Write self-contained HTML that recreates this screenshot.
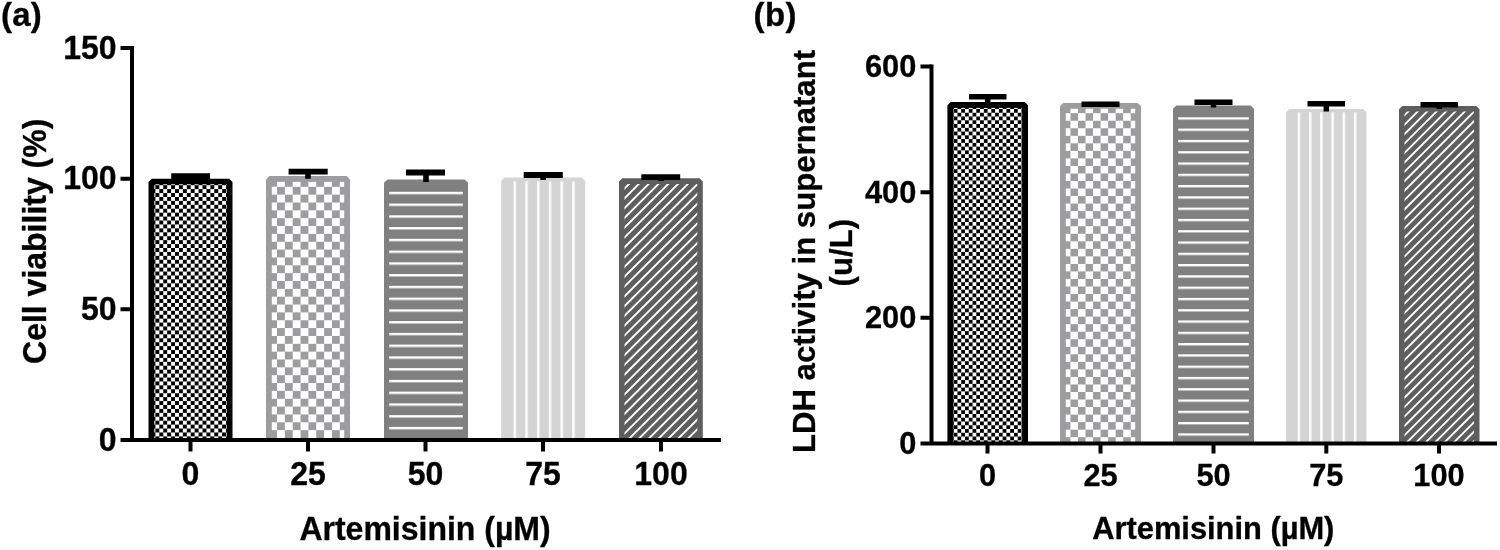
<!DOCTYPE html>
<html lang="en"><head><meta charset="utf-8"><title>Artemisinin cell viability and LDH activity</title>
<style>
html,body{margin:0;padding:0;background:#fff;}
body{width:1500px;height:550px;overflow:hidden;}
svg{display:block;}
text{font-family:"Liberation Sans",Arial,Helvetica,sans-serif;font-weight:bold;fill:#000;stroke:#000;stroke-width:0.3px;}
</style></head><body>
<svg width="1500" height="550" viewBox="0 0 1500 550" role="img" aria-label="Bar charts of cell viability and LDH activity versus Artemisinin concentration">
<rect x="0" y="0" width="1500" height="550" fill="#fff"/>
<defs>
<pattern id="p1a" patternUnits="userSpaceOnUse" x="155.4" y="185.2" width="7.85" height="7.85"><rect x="3.925" y="0" width="3.925" height="3.925" fill="#fff"/><rect x="0" y="3.925" width="3.925" height="3.925" fill="#fff"/></pattern>
<pattern id="p1b" patternUnits="userSpaceOnUse" x="277" y="186.8" width="15.7" height="15.7"><rect x="7.85" y="0" width="7.85" height="7.85" fill="#fff"/><rect x="0" y="7.85" width="7.85" height="7.85" fill="#fff"/></pattern>
<pattern id="p1c" patternUnits="userSpaceOnUse" x="0" y="191.8" width="50" height="11.755"><rect x="0" y="0" width="50" height="2.4" fill="#fff"/></pattern>
<pattern id="p1d" patternUnits="userSpaceOnUse" x="513.6" y="0" width="11.73" height="50"><rect x="0" y="0" width="2.4" height="50" fill="#fff"/></pattern>
<clipPath id="p1k"><rect x="624.5" y="183.9" width="72.8" height="256.1"/></clipPath>
<pattern id="p2a" patternUnits="userSpaceOnUse" x="953.7" y="109" width="7.53" height="7.53"><rect x="3.765" y="0" width="3.765" height="3.765" fill="#fff"/><rect x="0" y="3.765" width="3.765" height="3.765" fill="#fff"/></pattern>
<pattern id="p2b" patternUnits="userSpaceOnUse" x="1062.915" y="105.665" width="15.07" height="15.07"><rect x="7.535" y="0" width="7.535" height="7.535" fill="#fff"/><rect x="0" y="7.535" width="7.535" height="7.535" fill="#fff"/></pattern>
<pattern id="p2c" patternUnits="userSpaceOnUse" x="0" y="117.3" width="50" height="11.287"><rect x="0" y="0" width="50" height="2.3" fill="#fff"/></pattern>
<pattern id="p2d" patternUnits="userSpaceOnUse" x="1297.7" y="0" width="11.24" height="50"><rect x="0" y="0" width="2.4" height="50" fill="#fff"/></pattern>
<clipPath id="p2k"><rect x="1404.5" y="111.6" width="69.5" height="331.9"/></clipPath>
</defs>
<g id="chart1">
<path d="M148.5 440V182L151.8 178.7H229.2L232.5 182V440Z" fill="#000000"/>
<rect x="154.3" y="184.3" width="72.4" height="255.7" fill="url(#p1a)"/>
<path d="M266 440V179.4L269.3 176.1H346.7L350 179.4V440Z" fill="#9d9d9f"/>
<rect x="271.8" y="181.9" width="72.4" height="258.1" fill="url(#p1b)"/>
<path d="M384 440V182.7L387.3 179.4H464.7L468 182.7V440Z" fill="#808080"/>
<rect x="389.2" y="185.1" width="73.6" height="254.9" fill="url(#p1c)"/>
<path d="M501.2 440V180.9L504.5 177.6H581.9L585.2 180.9V440Z" fill="#d4d4d4"/>
<rect x="506.9" y="181.4" width="72.6" height="258.6" fill="url(#p1d)"/>
<path d="M619 440V181.6L622.3 178.3H699.5L702.8 181.6V440Z" fill="#5e5e5e"/>
<path clip-path="url(#p1k)" d="M622.5 170.9L699.3 94.1M622.5 180.7L699.3 103.9M622.5 190.5L699.3 113.7M622.5 200.3L699.3 123.5M622.5 210.1L699.3 133.3M622.5 219.9L699.3 143.1M622.5 229.7L699.3 152.9M622.5 239.5L699.3 162.7M622.5 249.3L699.3 172.5M622.5 259.1L699.3 182.3M622.5 268.9L699.3 192.1M622.5 278.7L699.3 201.9M622.5 288.5L699.3 211.7M622.5 298.3L699.3 221.5M622.5 308.1L699.3 231.3M622.5 317.9L699.3 241.1M622.5 327.7L699.3 250.9M622.5 337.5L699.3 260.7M622.5 347.3L699.3 270.5M622.5 357.1L699.3 280.3M622.5 366.9L699.3 290.1M622.5 376.7L699.3 299.9M622.5 386.5L699.3 309.7M622.5 396.3L699.3 319.5M622.5 406.1L699.3 329.3M622.5 415.9L699.3 339.1M622.5 425.7L699.3 348.9M622.5 435.5L699.3 358.7M622.5 445.3L699.3 368.5M622.5 455.1L699.3 378.3M622.5 464.9L699.3 388.1M622.5 474.7L699.3 397.9M622.5 484.5L699.3 407.7M622.5 494.3L699.3 417.5M622.5 504.1L699.3 427.3M622.5 513.9L699.3 437.1M622.5 523.7L699.3 446.9M622.5 533.5L699.3 456.7" stroke="#fff" stroke-width="1.9" fill="none"/>
<path d="M171.2 173.2H210V179H193.3V181H187.7V179H171.2Z" fill="#000"/>
<path d="M288.6 168.8H327.7V174.5H310.8V178.8H305.2V174.5H288.6Z" fill="#000"/>
<path d="M406 169.5H445V175.5H428.8V182H423.2V175.5H406Z" fill="#000"/>
<path d="M523.7 172.1H562.8V178H546V180H540.4V178H523.7Z" fill="#000"/>
<path d="M641.3 174.3H680.2V180H663.8V181H658.2V180H641.3Z" fill="#000"/>
<path d="M132 46V442M120.5 440H721" stroke="#000" stroke-width="4" fill="none"/>
<text transform="translate(116.6 450.5) scale(1 1.04)" font-size="32" text-anchor="end">0</text>
<text transform="translate(116.6 319.833) scale(1 1.04)" font-size="32" text-anchor="end">50</text>
<text transform="translate(116.6 189.167) scale(1 1.04)" font-size="32" text-anchor="end">100</text>
<text transform="translate(116.6 58.5) scale(1 1.04)" font-size="32" text-anchor="end">150</text>
<text transform="translate(190.5 484.6) scale(1 1.04)" font-size="32" text-anchor="middle">0</text>
<text transform="translate(308 484.6) scale(1 1.04)" font-size="32" text-anchor="middle">25</text>
<text transform="translate(425.5 484.6) scale(1 1.04)" font-size="32" text-anchor="middle">50</text>
<text transform="translate(543 484.6) scale(1 1.04)" font-size="32" text-anchor="middle">75</text>
<text transform="translate(661 484.6) scale(1 1.04)" font-size="32" text-anchor="middle">100</text>
<path d="M120.5 309.333H132M120.5 178.667H132M120.5 48H132M190.5 440V451.5M308 440V451.5M425.5 440V451.5M543 440V451.5M661 440V451.5" stroke="#000" stroke-width="4" fill="none"/>
<text transform="translate(425 539.6) scale(1 1.03)" font-size="32" text-anchor="middle">Artemisinin (µM)</text>
<text transform="translate(46 241.3) rotate(-90) scale(1 1.03)" font-size="32" text-anchor="middle">Cell viability (%)</text>
<text x="1" y="26" font-size="33" letter-spacing="0.2">(a)</text>
</g>
<g id="chart2">
<path d="M947.4 443.5V105.3L950.7 102H1024.7L1028 105.3V443.5Z" fill="#000000"/>
<rect x="953.3" y="107.9" width="68.8" height="335.6" fill="url(#p2a)"/>
<path d="M1060 443.5V106.3L1063.3 103H1137.7L1141 106.3V443.5Z" fill="#9d9d9f"/>
<rect x="1065.8" y="108.8" width="69.4" height="334.7" fill="url(#p2b)"/>
<path d="M1173 443.5V108.8L1176.3 105.5H1250.7L1254 108.8V443.5Z" fill="#808080"/>
<rect x="1178.2" y="111.2" width="70.6" height="332.3" fill="url(#p2c)"/>
<path d="M1286 443.5V112.3L1289.3 109H1363.2L1366.5 112.3V443.5Z" fill="#d4d4d4"/>
<rect x="1291.7" y="112.4" width="69.1" height="331.1" fill="url(#p2d)"/>
<path d="M1399 443.5V109.3L1402.3 106H1476.2L1479.5 109.3V443.5Z" fill="#5e5e5e"/>
<path clip-path="url(#p2k)" d="M1402.5 98.464L1476 24.964M1402.5 107.876L1476 34.376M1402.5 117.288L1476 43.788M1402.5 126.7L1476 53.2M1402.5 136.112L1476 62.612M1402.5 145.524L1476 72.024M1402.5 154.936L1476 81.436M1402.5 164.348L1476 90.848M1402.5 173.76L1476 100.26M1402.5 183.172L1476 109.672M1402.5 192.584L1476 119.084M1402.5 201.996L1476 128.496M1402.5 211.408L1476 137.908M1402.5 220.82L1476 147.32M1402.5 230.232L1476 156.732M1402.5 239.644L1476 166.144M1402.5 249.056L1476 175.556M1402.5 258.468L1476 184.968M1402.5 267.88L1476 194.38M1402.5 277.292L1476 203.792M1402.5 286.704L1476 213.204M1402.5 296.116L1476 222.616M1402.5 305.528L1476 232.028M1402.5 314.94L1476 241.44M1402.5 324.352L1476 250.852M1402.5 333.764L1476 260.264M1402.5 343.176L1476 269.676M1402.5 352.588L1476 279.088M1402.5 362L1476 288.5M1402.5 371.412L1476 297.912M1402.5 380.824L1476 307.324M1402.5 390.236L1476 316.736M1402.5 399.648L1476 326.148M1402.5 409.06L1476 335.56M1402.5 418.472L1476 344.972M1402.5 427.884L1476 354.384M1402.5 437.296L1476 363.796M1402.5 446.708L1476 373.208M1402.5 456.12L1476 382.62M1402.5 465.532L1476 392.032M1402.5 474.944L1476 401.444M1402.5 484.356L1476 410.856M1402.5 493.768L1476 420.268M1402.5 503.18L1476 429.68M1402.5 512.592L1476 439.092M1402.5 522.004L1476 448.504M1402.5 531.416L1476 457.916" stroke="#fff" stroke-width="1.85" fill="none"/>
<path d="M969 94H1006.5V99.5H990.45V104.5H984.95V99.5H969Z" fill="#000"/>
<path d="M1081.5 101.5H1119.5V107H1103.25V107H1097.75V107H1081.5Z" fill="#000"/>
<path d="M1194.5 99.5H1232.5V105H1216.25V107.5H1210.75V105H1194.5Z" fill="#000"/>
<path d="M1307.5 101H1345V106.5H1329.05V111.5H1323.55V106.5H1307.5Z" fill="#000"/>
<path d="M1420.5 102H1458V107.5H1442.05V109H1436.55V107.5H1420.5Z" fill="#000"/>
<path d="M931.5 64.5V445.5M920.5 443.5H1497" stroke="#000" stroke-width="4" fill="none"/>
<text transform="translate(916.3 453.9) scale(1 1.03)" font-size="30.8" text-anchor="end">0</text>
<text transform="translate(916.3 328.233) scale(1 1.03)" font-size="30.8" text-anchor="end">200</text>
<text transform="translate(916.3 202.567) scale(1 1.03)" font-size="30.8" text-anchor="end">400</text>
<text transform="translate(916.3 76.9) scale(1 1.03)" font-size="30.8" text-anchor="end">600</text>
<text transform="translate(987.5 486) scale(1 1.03)" font-size="30.8" text-anchor="middle">0</text>
<text transform="translate(1100.5 486) scale(1 1.03)" font-size="30.8" text-anchor="middle">25</text>
<text transform="translate(1213.5 486) scale(1 1.03)" font-size="30.8" text-anchor="middle">50</text>
<text transform="translate(1326.3 486) scale(1 1.03)" font-size="30.8" text-anchor="middle">75</text>
<text transform="translate(1439 486) scale(1 1.03)" font-size="30.8" text-anchor="middle">100</text>
<path d="M920.5 317.833H931.5M920.5 192.167H931.5M920.5 66.5H931.5M987.5 443.5V453.5M1100.5 443.5V453.5M1213.5 443.5V453.5M1326.3 443.5V453.5M1439 443.5V453.5" stroke="#000" stroke-width="4" fill="none"/>
<text transform="translate(1213.3 539) scale(1 1.03)" font-size="30.85" text-anchor="middle">Artemisinin (µM)</text>
<text transform="translate(815 251.5) rotate(-90) scale(1 1.03)" font-size="31.15" text-anchor="middle">LDH activity in supernatant</text>
<text transform="translate(851.5 252.7) rotate(-90) scale(1 1.03)" font-size="31.15" text-anchor="middle">(u/L)</text>
<text x="753.4" y="26" font-size="33" letter-spacing="0.5">(b)</text>
</g>
</svg>
</body></html>
